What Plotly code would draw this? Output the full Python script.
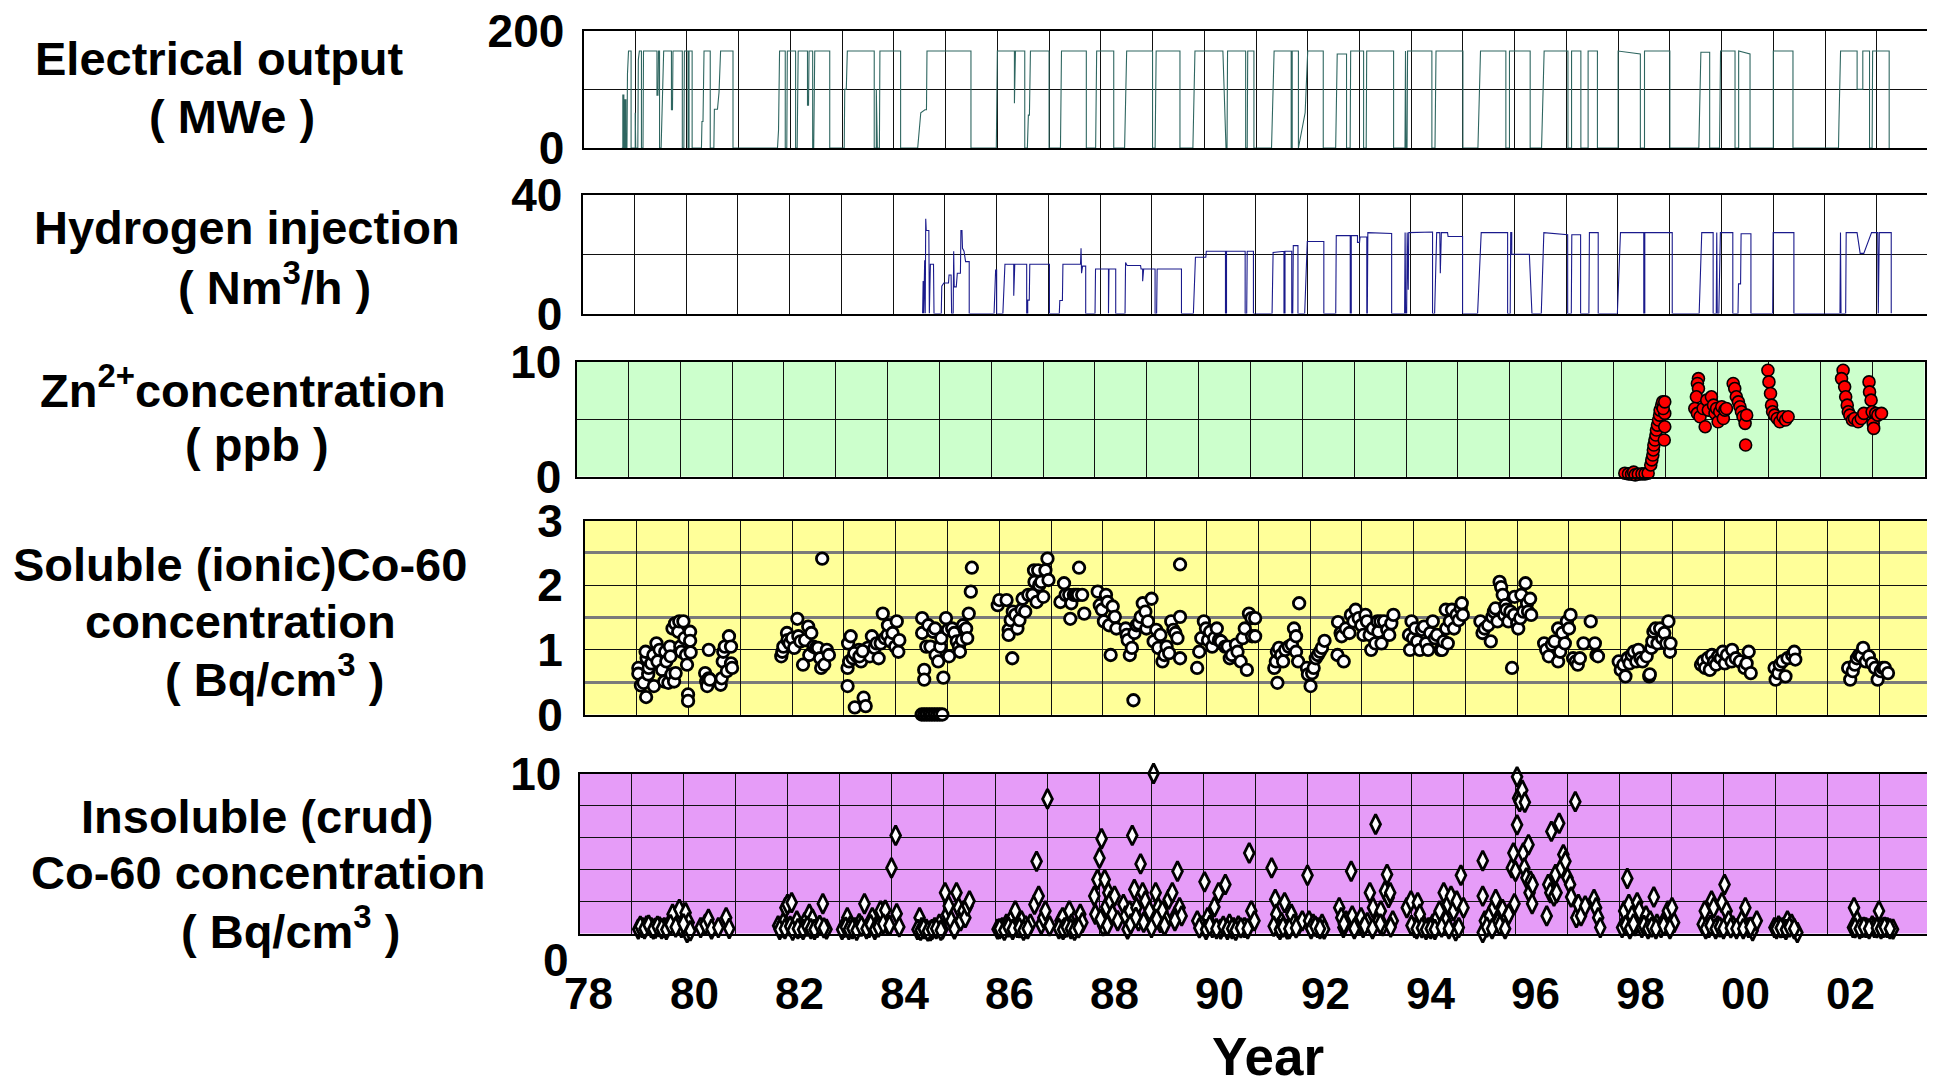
import plotly.graph_objects as go

# ---------------- data (years on the chart's yearly grid, 78 = 1978) ----------------
power_pts = [
    (78.74, 0), (78.76, 0), (78.76, 90), (78.78, 90), (78.78, 0), (78.80, 0), (78.80, 82), (78.82, 82), (78.82, 0),
    (78.84, 0), (78.85, 126), (78.87, 165), (78.92, 165), (78.92, 0),
    (79.00, 0), (79.00, 60), (79.01, 0), (79.05, 0), (79.06, 150), (79.08, 165), (79.12, 165), (79.12, 0), (79.15, 0),
    (79.16, 165), (79.42, 165), (79.42, 90), (79.44, 90), (79.45, 165), (79.47, 165), (79.47, 0), (79.50, 0),
    (79.55, 165), (79.70, 165), (79.70, 65), (79.72, 65), (79.73, 165), (79.91, 165), (79.91, 0), (79.94, 0),
    (79.95, 165), (80.02, 165), (80.02, 0), (80.04, 0), (80.04, 165), (80.10, 165), (80.10, 0),
    (80.28, 0), (80.29, 45), (80.31, 45), (80.33, 165), (80.45, 165), (80.45, 0), (80.52, 0), (80.53, 66), (80.59, 66),
    (80.62, 95), (80.65, 165), (80.89, 165), (80.89, 0),
    (81.75, 0), (81.77, 30), (81.79, 165), (81.90, 165), (81.90, 0), (81.93, 0), (81.94, 165), (82.10, 165), (82.10, 0),
    (82.13, 0), (82.15, 165), (82.33, 165), (82.33, 73), (82.35, 73), (82.36, 165), (82.43, 165), (82.43, 0), (82.45, 0),
    (82.47, 165), (82.76, 165), (82.76, 0),
    (83.04, 0), (83.05, 100), (83.08, 100), (83.10, 165), (83.62, 165), (83.62, 0), (83.66, 0), (83.66, 100), (83.68, 0),
    (83.72, 0), (83.73, 165), (84.13, 165), (84.13, 0),
    (84.46, 0), (84.52, 60), (84.60, 65), (84.63, 65), (84.64, 165), (85.49, 165), (85.49, 0),
    (85.98, 0), (86.00, 165), (86.33, 165), (86.33, 76), (86.35, 165), (86.53, 165), (86.53, 0), (86.58, 0), (86.60, 56),
    (86.62, 56), (86.64, 165), (87.00, 165), (87.00, 0),
    (87.22, 0), (87.24, 165), (87.72, 165), (87.72, 0),
    (87.90, 0), (87.92, 165), (88.25, 165), (88.25, 0), (88.46, 0), (88.47, 42), (88.48, 42), (88.50, 165), (89.00, 165),
    (89.00, 0), (89.05, 0), (89.07, 165), (89.53, 165), (89.53, 0),
    (89.78, 0), (89.82, 165), (90.36, 165), (90.42, 0), (90.44, 0), (90.45, 165), (90.80, 165), (90.80, 0), (90.83, 0),
    (90.84, 165), (90.96, 165), (90.96, 0),
    (91.30, 0), (91.35, 165), (91.68, 165), (91.68, 0), (91.70, 0), (91.70, 165), (91.82, 165), (91.82, 0),
    (91.95, 60), (92.00, 165), (92.30, 165), (92.30, 0),
    (92.54, 0), (92.57, 160), (92.75, 160), (92.75, 0), (92.82, 0), (92.83, 165), (93.08, 165), (93.08, 0), (93.13, 0),
    (93.14, 165), (93.66, 165), (93.66, 0),
    (93.88, 0), (93.89, 165), (93.90, 0), (93.92, 0), (93.93, 165), (94.40, 165), (94.40, 0), (94.46, 0), (94.48, 165),
    (95.00, 165), (95.00, 0),
    (95.29, 0), (95.34, 165), (95.83, 165), (95.83, 0), (95.90, 0), (95.90, 165), (96.30, 165), (96.30, 0),
    (96.52, 0), (96.57, 165), (97.03, 165), (97.03, 0), (97.10, 0), (97.10, 165), (97.28, 165), (97.28, 0), (97.42, 0),
    (97.42, 165), (97.60, 165), (97.60, 0),
    (98.00, 0), (98.00, 165), (98.43, 160), (98.43, 0), (98.51, 0), (98.51, 165), (99.00, 165), (99.00, 0),
    (99.56, 0), (99.60, 163), (99.77, 163), (99.77, 0), (99.96, 0), (99.98, 165), (100.26, 165), (100.26, 0),
    (100.33, 0), (100.33, 165), (100.55, 160), (100.55, 0),
    (101.00, 0), (101.00, 165), (101.38, 165), (101.38, 0),
    (102.26, 0), (102.27, 48), (102.30, 165), (102.62, 165), (102.62, 100), (102.73, 100), (102.73, 165), (102.86, 165),
    (102.86, 0), (102.91, 0), (102.92, 165), (103.24, 165), (103.24, 0),
]

h2_pts = [
    (84.57, 0), (84.58, 11), (84.59, 0), (84.61, 18), (84.62, 0), (84.63, 32), (84.64, 28), (84.69, 28), (84.70, 0),
    (84.72, 16.6), (84.78, 16.6), (84.79, 0),
    (84.93, 0), (84.94, 9.2), (84.98, 10.3), (85.07, 10.3), (85.08, 13), (85.12, 13), (85.13, 0), (85.16, 0), (85.17, 21),
    (85.18, 9), (85.22, 9), (85.24, 13.6), (85.30, 13.6), (85.31, 28), (85.33, 28), (85.34, 22), (85.37, 21),
    (85.40, 17.5), (85.47, 17.5), (85.47, 0),
    (85.95, 0), (85.98, 14.7), (86.00, 14.7), (86.00, 0), (86.12, 0), (86.16, 16.6), (86.33, 16.6), (86.33, 6),
    (86.35, 16.6), (86.58, 16.6), (86.58, 0), (86.60, 0), (86.60, 4.5), (86.63, 4.5), (86.64, 16.6), (87.02, 16.6),
    (87.02, 0),
    (87.21, 0), (87.22, 4.4), (87.27, 4.4), (87.28, 16.6), (87.62, 16.6), (87.63, 22), (87.64, 13.6), (87.66, 16),
    (87.72, 16), (87.72, 0),
    (87.90, 0), (87.91, 15), (88.16, 15), (88.16, 0), (88.17, 15), (88.30, 15), (88.30, 0),
    (88.48, 0), (88.49, 17.2), (88.52, 16.2), (88.78, 16.2), (88.79, 15), (88.82, 15), (88.82, 10.9), (88.84, 15),
    (89.06, 15), (89.06, 0), (89.09, 0), (89.10, 15), (89.57, 15), (89.57, 0),
    (89.80, 0), (89.82, 14.7), (89.84, 19), (90.04, 19), (90.05, 21), (90.42, 21), (90.42, 0), (90.44, 0), (90.44, 21),
    (90.80, 21), (90.80, 0), (90.83, 0), (90.84, 21), (90.96, 21), (90.96, 0),
    (91.32, 0), (91.34, 20.6), (91.55, 21), (91.55, 0), (91.57, 0), (91.57, 21), (91.70, 21), (91.70, 0), (91.72, 0),
    (91.73, 22.9), (91.82, 22.9), (91.82, 0),
    (91.95, 0), (92.00, 24.3), (92.32, 24.3), (92.32, 0),
    (92.55, 0), (92.56, 26.3), (92.83, 26.3), (92.83, 0), (92.85, 0), (92.85, 26.3), (92.97, 26.3), (92.97, 24),
    (93.01, 24), (93.02, 25.8), (93.15, 25.8), (93.15, 0), (93.16, 0), (93.17, 27.3), (93.63, 27), (93.63, 0),
    (93.88, 0), (93.89, 27.3), (93.90, 0), (93.92, 0), (93.93, 27.3), (93.95, 8), (93.96, 27.3), (94.42, 27.5),
    (94.42, 0), (94.46, 0), (94.48, 20), (94.50, 27.3), (94.56, 27.3), (94.57, 13.6), (94.59, 27.3), (94.71, 27.3),
    (94.72, 26), (95.00, 26), (95.00, 0),
    (95.29, 0), (95.36, 27.3), (95.87, 27.3), (95.87, 0), (95.92, 0), (95.93, 27.3), (95.95, 27.3), (95.95, 20),
    (96.29, 20), (96.34, 0),
    (96.52, 0), (96.57, 27.3), (97.03, 26.6), (97.03, 0), (97.10, 0), (97.11, 26.6), (97.28, 26.6), (97.28, 0),
    (97.44, 0), (97.45, 27.3), (97.62, 27.3), (97.62, 0),
    (97.99, 0), (98.05, 27.3), (98.50, 27.3), (98.50, 0), (98.52, 0), (98.52, 27.3), (99.05, 27.3), (99.05, 0),
    (99.57, 0), (99.62, 27.3), (99.84, 27.3), (99.84, 0), (99.90, 0), (99.91, 27.3), (99.92, 0), (99.95, 0),
    (99.98, 27.3), (100.22, 27.3), (100.22, 0), (100.32, 0), (100.33, 10), (100.37, 10), (100.38, 26.9),
    (100.57, 26.9), (100.57, 0),
    (100.99, 0), (101.00, 27.3), (101.40, 27.3), (101.40, 0),
    (102.29, 0), (102.30, 27.3), (102.31, 0), (102.40, 0), (102.41, 27.3), (102.62, 27.3), (102.68, 20.3),
    (102.75, 20.3), (102.90, 27.3), (103.02, 27.3), (103.03, 0), (103.05, 27.3), (103.28, 27.3), (103.28, 0),
]

zn_pts = [
    (98.22, 0.29), (98.29, 0.23), (98.35, 0.20), (98.39, 0.38), (98.42, 0.14), (98.48, 0.20), (98.55, 0.23),
    (98.61, 0.23), (98.67, 0.29),
    (98.72, 1.01), (98.74, 1.45), (98.76, 1.88), (98.77, 2.32), (98.78, 2.75), (98.80, 3.19), (98.82, 3.62),
    (98.83, 4.06), (98.85, 4.49), (98.87, 4.93), (98.89, 5.36), (98.90, 5.80), (98.93, 6.23), (98.95, 6.52),
    (98.98, 3.19), (98.99, 4.35), (98.99, 5.51), (98.96, 5.94), (98.99, 6.52),
    (99.64, 8.55), (99.62, 8.12), (99.64, 7.68), (99.60, 6.96), (99.57, 5.94), (99.62, 5.51), (99.67, 5.22),
    (99.73, 5.94), (99.77, 4.35), (99.80, 6.67), (99.83, 5.80), (99.89, 6.96), (99.93, 6.23), (99.96, 5.51),
    (99.99, 5.94), (100.02, 4.78), (100.05, 5.65), (100.09, 6.09), (100.12, 5.07), (100.15, 5.80), (100.18, 5.94),
    (100.31, 8.12), (100.34, 7.68), (100.37, 6.96), (100.41, 6.52), (100.44, 6.09), (100.47, 5.65), (100.50, 5.22),
    (100.54, 4.64), (100.57, 5.36), (100.55, 2.75),
    (100.98, 9.28), (101.00, 8.26), (101.03, 7.25), (101.05, 6.23), (101.07, 5.65), (101.11, 5.36), (101.16, 5.07),
    (101.21, 4.78), (101.27, 5.22), (101.32, 4.93), (101.37, 5.22),
    (102.43, 9.28), (102.40, 8.55), (102.46, 7.83), (102.48, 6.96), (102.51, 6.23), (102.53, 5.65), (102.56, 5.36),
    (102.61, 4.93), (102.65, 5.07), (102.72, 4.78), (102.78, 5.07), (102.83, 5.51), (102.93, 8.26), (102.94, 7.39),
    (102.97, 6.67), (102.99, 5.65), (103.01, 4.64), (103.02, 4.20), (103.06, 5.51), (103.10, 5.36), (103.17, 5.51),
]

soluble_pts = [
    (79.03, 0.72), (79.03, 0.63), (79.08, 0.45), (79.13, 0.49), (79.18, 0.27), (79.22, 0.62), (79.23, 0.72),
    (79.19, 0.87), (79.17, 0.97), (79.28, 0.79), (79.33, 0.44), (79.32, 0.92), (79.38, 1.10), (79.40, 0.82),
    (79.44, 1.00), (79.49, 0.69), (79.53, 0.51), (79.55, 0.97), (79.57, 0.82), (79.61, 0.49), (79.64, 1.05),
    (79.65, 0.90), (79.67, 0.62), (79.69, 1.33), (79.72, 0.51), (79.74, 1.41), (79.75, 0.64), (79.80, 1.28),
    (79.82, 1.44), (79.84, 1.05), (79.86, 0.97), (79.90, 1.44), (79.92, 1.18), (79.95, 0.92), (79.97, 0.77),
    (79.99, 0.31), (79.99, 0.21), (80.03, 1.28), (80.03, 1.14), (80.04, 0.96),
    (80.39, 1.00), (80.32, 0.64), (80.34, 0.51), (80.36, 0.44), (80.39, 0.56), (80.41, 0.54), (80.62, 0.46),
    (80.64, 0.56), (80.66, 0.82), (80.67, 0.97), (80.70, 1.05), (80.74, 0.67), (80.78, 1.21), (80.82, 1.05),
    (80.82, 0.79), (80.84, 0.72),
    (81.79, 0.90), (81.81, 0.97), (81.83, 1.05), (81.90, 1.26), (81.91, 1.15), (81.95, 1.10), (82.00, 1.18),
    (82.04, 1.03), (82.10, 1.48), (82.12, 1.21), (82.16, 1.13), (82.21, 0.77), (82.25, 1.15), (82.31, 1.36),
    (82.33, 0.92), (82.37, 1.26), (82.41, 1.05), (82.46, 1.03), (82.50, 1.03), (82.54, 0.87), (82.56, 0.72),
    (82.62, 0.77), (82.67, 1.00), (82.71, 0.92), (82.58, 2.41),
    (83.07, 0.72), (83.07, 0.44), (83.08, 1.10), (83.10, 0.82), (83.13, 1.21), (83.17, 0.87), (83.21, 0.11),
    (83.25, 0.90), (83.29, 1.00), (83.33, 0.82), (83.38, 0.26), (83.42, 0.13), (83.40, 0.97), (83.46, 1.03),
    (83.50, 0.90), (83.54, 1.21), (83.59, 1.03), (83.63, 1.10), (83.67, 0.87), (83.71, 1.10), (83.75, 1.56),
    (83.79, 1.18), (83.84, 1.23), (83.85, 1.38), (83.90, 1.13), (83.94, 1.26), (83.99, 1.05), (84.02, 1.44),
    (84.05, 0.97), (84.07, 1.15), (83.20, 0.95), (83.30, 0.90), (83.36, 0.98),
    (84.50, 0.0), (84.55, 0.0), (84.60, 0.0), (84.65, 0.0), (84.70, 0.0), (84.75, 0.0), (84.80, 0.0), (84.85, 0.0),
    (84.90, 0.0),
    (84.51, 1.49), (84.51, 1.26), (84.55, 0.69), (84.55, 0.54), (84.59, 1.05), (84.63, 1.38), (84.67, 1.05),
    (84.72, 1.28), (84.76, 1.33), (84.77, 0.92), (84.82, 0.82), (84.86, 1.05), (84.88, 1.18), (84.92, 0.57),
    (84.97, 1.49), (85.01, 1.31), (85.03, 0.90), (85.09, 1.33), (85.13, 1.26), (85.18, 1.13), (85.22, 1.05),
    (85.24, 0.97), (85.28, 1.15), (85.30, 1.38), (85.33, 1.31), (85.36, 1.33), (85.38, 1.18), (85.41, 1.56),
    (85.45, 1.90), (85.47, 2.27),
    (85.97, 1.69), (86.00, 1.77), (86.14, 1.77), (86.18, 1.31), (86.18, 1.23), (86.22, 1.46), (86.25, 0.87),
    (86.26, 1.59), (86.31, 1.54), (86.35, 1.33), (86.39, 1.46), (86.43, 1.62), (86.45, 1.79), (86.50, 1.59),
    (86.56, 1.85), (86.64, 1.85), (86.67, 2.23), (86.68, 2.05), (86.72, 1.74), (86.75, 2.23), (86.77, 2.00),
    (86.81, 2.05), (86.85, 1.82), (86.89, 2.23), (86.93, 2.41), (86.95, 2.08),
    (87.18, 1.74), (87.25, 2.03), (87.28, 1.85), (87.35, 1.85), (87.37, 1.48), (87.39, 1.72), (87.44, 1.85),
    (87.48, 1.85), (87.52, 1.85), (87.54, 2.27), (87.60, 1.85), (87.64, 1.56),
    (87.90, 1.90), (87.94, 1.69), (87.98, 1.62), (88.02, 1.44), (88.06, 1.85), (88.09, 1.74), (88.12, 1.38),
    (88.15, 0.92), (88.19, 1.67), (88.23, 1.51), (88.26, 1.33), (88.44, 1.33), (88.46, 1.23), (88.48, 1.15),
    (88.52, 0.92), (88.56, 1.03), (88.59, 0.22), (88.61, 1.26), (88.65, 1.38), (88.69, 1.41), (88.73, 1.51),
    (88.77, 1.72), (88.82, 1.59), (88.84, 1.33), (88.87, 1.44), (88.94, 1.79), (88.98, 1.13), (89.03, 1.31),
    (89.07, 1.03), (89.11, 1.23), (89.15, 0.82), (89.19, 0.92), (89.23, 1.05), (89.28, 0.95), (89.32, 1.44),
    (89.36, 1.31), (89.40, 1.26), (89.44, 1.18), (89.49, 0.87), (89.49, 1.51), (89.49, 2.32),
    (89.82, 0.72), (89.86, 0.97), (89.90, 1.18), (89.95, 1.44), (89.99, 1.33), (90.03, 1.15), (90.07, 1.28),
    (90.11, 1.05), (90.15, 1.18), (90.20, 1.33), (90.24, 1.15), (90.28, 1.13), (90.36, 1.05), (90.41, 1.05),
    (90.45, 0.87), (90.49, 0.92), (90.57, 1.08), (90.60, 0.97), (90.66, 0.82), (90.70, 1.18), (90.74, 1.33),
    (90.78, 0.69), (90.82, 1.56), (90.87, 1.49), (90.88, 1.21), (90.94, 1.49), (90.94, 1.21),
    (91.31, 0.72), (91.34, 0.82), (91.36, 0.97), (91.37, 0.49), (91.40, 1.03), (91.44, 0.92), (91.48, 0.82),
    (91.52, 1.00), (91.59, 1.05), (91.65, 1.08), (91.69, 1.33), (91.73, 1.21), (91.73, 0.97), (91.77, 0.82),
    (91.79, 1.72),
    (91.94, 0.72), (91.96, 0.62), (92.01, 0.44), (92.04, 0.64), (92.07, 0.72), (92.11, 0.87), (92.15, 0.92),
    (92.19, 0.97), (92.23, 1.03), (92.28, 1.14),
    (92.53, 0.92), (92.54, 1.43), (92.59, 1.26), (92.61, 1.21), (92.65, 0.82), (92.69, 1.33), (92.76, 1.26),
    (92.79, 1.54), (92.84, 1.44), (92.88, 1.62), (92.94, 1.49), (92.99, 1.38), (93.03, 1.23), (93.07, 1.54),
    (93.10, 1.44), (93.15, 1.23), (93.18, 1.00), (93.21, 1.33), (93.26, 1.10), (93.30, 1.44), (93.32, 1.28),
    (93.36, 1.44), (93.38, 1.10), (93.43, 1.44), (93.49, 1.31), (93.53, 1.23), (93.57, 1.41), (93.61, 1.54),
    (93.91, 1.23), (93.93, 1.00), (93.96, 1.44), (93.99, 1.18), (94.03, 1.33), (94.07, 1.13), (94.12, 1.00),
    (94.16, 1.31), (94.20, 1.36), (94.24, 1.10), (94.28, 1.00), (94.32, 1.26), (94.37, 1.44), (94.41, 1.18),
    (94.45, 1.23), (94.52, 1.00), (94.55, 1.00), (94.58, 1.13), (94.62, 1.62), (94.63, 1.33), (94.66, 1.10),
    (94.70, 1.44), (94.74, 1.62), (94.78, 1.33), (94.83, 1.54), (94.87, 1.46), (94.91, 1.64), (94.93, 1.72),
    (94.95, 1.54),
    (95.29, 1.44), (95.33, 1.26), (95.37, 1.33), (95.44, 1.38), (95.49, 1.13), (95.52, 1.51), (95.55, 1.59),
    (95.58, 1.64), (95.62, 1.44), (95.66, 2.05), (95.69, 1.97), (95.72, 1.85), (95.75, 1.54), (95.77, 1.69),
    (95.79, 1.62), (95.83, 1.44), (95.87, 1.59), (95.90, 0.72), (95.94, 1.54), (95.95, 1.82), (96.00, 1.41),
    (96.02, 1.33), (96.06, 1.49), (96.08, 1.85), (96.12, 1.59), (96.16, 2.03), (96.19, 1.72), (96.21, 1.59),
    (96.25, 1.79), (96.27, 1.54),
    (96.52, 1.10), (96.56, 1.00), (96.61, 0.90), (96.67, 1.08), (96.72, 1.13), (96.79, 1.33), (96.79, 0.82),
    (96.83, 0.97), (96.87, 1.26), (96.92, 1.10), (96.96, 1.44), (97.00, 1.33), (97.03, 1.54), (97.08, 0.87),
    (97.13, 0.82), (97.17, 0.77), (97.21, 0.87), (97.28, 1.10), (97.42, 1.44), (97.50, 1.10), (97.53, 0.92),
    (97.56, 0.90),
    (97.96, 0.82), (98.00, 0.69), (98.05, 0.77), (98.09, 0.59), (98.13, 0.87), (98.17, 0.79), (98.21, 0.92),
    (98.25, 0.97), (98.30, 0.82), (98.34, 1.00), (98.38, 0.87), (98.42, 0.82), (98.50, 0.90), (98.55, 0.59),
    (98.56, 0.62), (98.59, 1.03), (98.61, 1.13), (98.63, 1.28), (98.67, 1.33), (98.71, 1.10), (98.76, 1.33),
    (98.80, 1.18), (98.84, 1.26), (98.88, 1.10), (98.92, 1.44), (98.95, 0.97), (98.96, 1.10),
    (99.55, 0.77), (99.59, 0.82), (99.63, 0.72), (99.68, 0.87), (99.72, 0.69), (99.76, 0.92), (99.80, 0.82),
    (99.84, 0.77), (99.88, 0.90), (99.93, 0.87), (99.97, 0.97), (100.01, 0.79), (100.05, 0.92), (100.14, 0.82),
    (100.15, 1.00), (100.22, 0.87), (100.30, 0.82), (100.39, 0.72), (100.43, 0.79), (100.47, 0.97), (100.51, 0.64),
    (100.97, 0.72), (100.99, 0.54), (101.04, 0.64), (101.07, 0.77), (101.12, 0.82), (101.18, 0.59), (101.22, 0.87),
    (101.31, 0.92), (101.35, 0.97), (101.37, 0.85),
    (102.39, 0.72), (102.43, 0.54), (102.48, 0.67), (102.52, 0.77), (102.56, 0.87), (102.60, 0.92), (102.64, 0.90),
    (102.68, 1.03), (102.73, 0.82), (102.79, 0.90), (102.85, 0.79), (102.91, 0.72), (102.96, 0.54), (103.02, 0.67),
    (103.06, 0.72), (103.10, 0.72), (103.16, 0.64),
]

insoluble_pts = [
    (79.13, 0.27), (79.21, 0.37), (79.29, 0.48), (79.38, 0.37), (79.46, 0.33), (79.54, 0.41), (79.63, 0.37),
    (79.71, 0.48), (79.79, 1.20), (79.92, 1.51), (79.96, 0.37), (80.04, 1.30), (80.07, 0.06), (80.10, 0.68),
    (80.13, 0.17), (79.17, 0.45), (79.25, 0.30), (79.33, 0.52), (79.42, 0.28), (79.50, 0.45), (79.58, 0.30),
    (79.67, 0.25), (79.75, 0.55), (79.85, 0.40), (80.00, 0.60),
    (80.33, 0.37), (80.42, 0.58), (80.48, 0.89), (80.54, 0.27), (80.67, 0.37), (80.82, 0.99), (80.88, 0.31),
    (81.82, 0.48), (81.88, 0.37), (81.92, 0.68), (81.96, 1.61), (82.00, 1.82), (82.08, 1.93), (82.13, 0.37),
    (82.18, 0.79), (82.25, 0.37), (82.33, 0.68), (82.42, 1.20), (82.48, 0.89), (82.57, 0.37), (82.68, 1.86),
    (82.75, 0.27), (81.85, 0.25), (81.95, 0.30), (82.05, 0.45), (82.10, 0.20), (82.20, 0.30), (82.30, 0.25),
    (82.38, 0.45), (82.45, 0.30), (82.52, 0.25), (82.62, 0.50), (82.70, 0.35),
    (83.08, 0.37), (83.15, 0.99), (83.21, 0.48), (83.29, 0.37), (83.38, 0.62), (83.48, 1.86), (83.57, 0.37),
    (83.63, 0.99), (83.71, 0.48), (83.79, 1.41), (83.88, 1.45), (83.92, 0.58), (84.00, 4.10), (84.08, 6.13),
    (84.10, 1.24), (84.15, 0.41), (83.05, 0.25), (83.12, 0.40), (83.18, 0.25), (83.25, 0.30), (83.33, 0.20),
    (83.42, 0.45), (83.52, 0.30), (83.60, 0.55), (83.68, 0.25), (83.75, 0.40), (83.84, 0.60), (83.96, 0.50),
    (84.54, 0.99), (84.58, 0.37), (84.67, 0.27), (84.75, 0.17), (84.83, 0.37), (84.92, 0.58), (84.98, 0.27),
    (85.03, 2.55), (85.07, 1.20), (85.10, 1.72), (85.15, 0.79), (85.21, 0.27), (85.25, 2.55), (85.29, 1.61),
    (85.33, 0.79), (85.38, 1.41), (85.42, 0.99), (85.46, 1.72), (85.50, 2.03), (84.50, 0.25), (84.56, 0.20),
    (84.62, 0.30), (84.70, 0.15), (84.78, 0.25), (84.86, 0.30), (84.95, 0.20),
    (86.04, 0.27), (86.13, 0.37), (86.21, 0.58), (86.29, 0.79), (86.38, 1.41), (86.42, 0.37), (86.50, 0.79),
    (86.58, 0.48), (86.67, 0.58), (86.75, 1.82), (86.79, 4.51), (86.83, 2.34), (86.88, 0.58), (86.92, 0.99),
    (86.96, 1.41), (87.00, 8.41), (87.04, 0.48), (86.08, 0.30), (86.17, 0.20), (86.25, 0.40), (86.33, 0.25),
    (86.46, 0.35), (86.54, 0.20), (86.62, 0.30),
    (87.25, 0.79), (87.29, 0.99), (87.33, 0.37), (87.42, 1.41), (87.46, 0.58), (87.58, 0.48), (87.63, 1.20),
    (87.67, 0.68), (87.22, 0.30), (87.30, 0.25), (87.37, 0.40), (87.45, 0.30), (87.52, 0.20), (87.60, 0.35),
    (87.90, 2.34), (87.92, 1.20), (87.96, 3.37), (88.00, 4.72), (88.04, 5.92), (88.07, 0.48), (88.10, 3.37),
    (88.13, 1.66), (88.17, 2.55), (88.21, 2.03), (88.25, 1.20), (88.29, 2.34), (88.46, 1.82), (88.50, 1.10),
    (88.54, 0.27), (88.58, 1.41), (88.63, 6.13), (88.67, 2.75), (88.71, 1.61), (88.75, 0.79), (88.79, 4.35),
    (88.83, 2.55), (88.88, 2.03), (88.92, 0.89), (88.96, 1.41), (89.00, 0.37), (89.04, 10.0), (89.08, 2.55),
    (89.13, 1.61), (89.17, 0.68), (89.21, 1.41), (89.29, 0.79), (89.33, 2.13), (89.40, 2.55), (89.46, 1.10),
    (89.50, 3.89), (89.54, 1.61), (89.58, 1.10), (88.02, 0.90), (88.15, 0.50), (88.35, 0.80), (88.60, 0.60),
    (88.70, 1.00), (88.85, 0.70), (89.10, 0.90), (89.25, 0.50), (89.45, 0.80),
    (89.88, 0.79), (89.96, 0.48), (90.02, 3.23), (90.08, 0.99), (90.17, 0.37), (90.21, 1.66), (90.29, 2.55),
    (90.33, 0.27), (90.42, 3.06), (90.50, 0.58), (90.58, 0.37), (90.67, 0.48), (90.79, 0.37), (90.88, 5.03),
    (90.92, 1.41), (89.92, 0.35), (90.05, 0.25), (90.12, 0.50), (90.25, 0.30), (90.38, 0.45), (90.46, 0.25),
    (90.55, 0.30), (90.62, 0.20), (90.72, 0.35), (90.85, 0.30),
    (90.98, 0.79), (91.31, 4.10), (91.38, 2.13), (91.40, 1.20), (91.44, 0.37), (91.50, 0.68), (91.56, 1.93),
    (91.61, 0.27), (91.69, 1.20), (91.74, 0.58), (91.82, 0.48), (91.90, 0.79), (92.00, 3.64), (92.03, 0.79),
    (92.11, 0.58), (92.19, 0.37), (92.28, 0.58), (92.32, 0.27), (91.35, 0.45), (91.47, 0.25), (91.53, 0.40),
    (91.65, 0.30), (91.78, 0.35), (92.07, 0.30), (92.15, 0.45), (92.24, 0.30),
    (92.61, 1.61), (92.65, 0.99), (92.69, 0.37), (92.74, 0.79), (92.84, 3.89), (92.86, 1.10), (92.95, 0.58),
    (93.03, 0.99), (93.07, 0.37), (93.15, 0.68), (93.20, 2.55), (93.26, 1.61), (93.31, 6.83), (93.36, 0.79),
    (93.41, 1.41), (93.45, 0.48), (93.49, 2.65), (93.53, 3.69), (93.56, 2.24), (93.59, 2.55), (93.64, 0.79),
    (92.70, 0.60), (92.90, 0.30), (93.10, 0.50), (93.25, 0.30), (93.40, 0.60), (93.60, 0.40),
    (93.91, 1.61), (93.99, 2.03), (94.06, 0.37), (94.12, 1.93), (94.16, 1.20), (94.24, 0.48), (94.33, 0.37),
    (94.41, 0.58), (94.49, 0.99), (94.54, 1.41), (94.62, 2.55), (94.66, 0.79), (94.70, 1.82), (94.76, 2.34),
    (94.81, 1.41), (94.85, 0.17), (94.87, 2.03), (94.91, 0.37), (94.95, 3.64), (95.00, 1.61), (94.00, 0.50),
    (94.10, 0.30), (94.20, 0.35), (94.28, 0.25), (94.37, 0.30), (94.45, 0.25), (94.58, 0.40), (94.72, 0.30),
    (95.37, 0.06), (95.37, 2.34), (95.37, 4.55), (95.41, 0.79), (95.50, 1.10), (95.58, 1.61), (95.62, 2.13),
    (95.66, 0.68), (95.75, 1.51), (95.83, 0.99), (95.87, 1.20), (95.93, 4.10), (95.96, 5.03), (95.98, 1.86),
    (96.00, 3.89), (96.03, 6.79), (96.03, 9.79), (96.05, 8.45), (96.08, 8.24), (96.13, 8.96), (96.15, 5.03),
    (96.17, 4.10), (96.18, 8.20), (96.21, 3.48), (96.25, 5.55), (96.27, 2.55), (96.29, 3.27), (96.32, 1.86),
    (96.33, 3.06), (95.45, 0.40), (95.55, 0.30), (95.70, 0.50), (95.80, 0.30),
    (96.60, 1.10), (96.63, 3.06), (96.67, 2.55), (96.69, 6.38), (96.74, 2.34), (96.77, 3.69), (96.79, 2.55),
    (96.84, 6.89), (96.88, 4.10), (96.92, 4.93), (96.96, 4.51), (97.00, 3.48), (97.05, 3.06), (97.07, 2.28),
    (97.15, 8.24), (97.17, 0.99), (97.21, 1.82), (97.26, 1.10), (97.34, 1.72), (97.51, 2.13), (97.55, 1.61),
    (97.59, 0.99), (97.63, 0.37),
    (98.05, 0.37), (98.09, 1.41), (98.15, 3.44), (98.18, 1.82), (98.24, 1.10), (98.30, 0.48), (98.34, 1.93),
    (98.38, 1.41), (98.43, 0.37), (98.51, 1.10), (98.59, 0.79), (98.66, 2.28), (98.72, 0.58), (98.80, 0.37),
    (98.89, 0.99), (98.93, 1.41), (99.01, 1.61), (99.05, 0.68), (98.12, 0.50), (98.20, 0.30), (98.27, 0.60),
    (98.47, 0.50), (98.55, 0.30), (98.62, 0.40), (98.70, 0.30), (98.85, 0.50), (98.97, 0.30),
    (99.60, 0.58), (99.64, 1.41), (99.72, 0.37), (99.77, 2.03), (99.81, 1.61), (99.89, 0.48), (99.97, 1.93),
    (100.02, 3.06), (100.06, 1.41), (100.10, 0.79), (100.18, 0.48), (100.35, 0.79), (100.42, 1.61), (100.48, 0.37),
    (100.56, 0.17), (100.64, 0.79), (99.66, 0.30), (99.75, 0.50), (99.85, 0.30), (99.93, 0.40), (100.00, 0.30),
    (100.14, 0.35), (100.25, 0.30), (100.38, 0.30), (100.52, 0.40),
    (100.98, 0.37), (101.06, 0.48), (101.15, 0.37), (101.23, 0.79), (101.31, 0.58), (101.42, 0.06), (101.02, 0.30),
    (101.10, 0.35), (101.20, 0.25), (101.27, 0.40), (101.36, 0.30),
    (102.49, 0.37), (102.51, 1.61), (102.57, 0.79), (102.66, 0.37), (102.74, 0.37), (102.86, 0.48), (102.90, 0.37),
    (102.99, 1.41), (103.07, 0.37), (103.15, 0.37), (103.26, 0.27), (102.53, 0.35), (102.62, 0.30), (102.70, 0.40),
    (102.80, 0.30), (102.95, 0.35), (103.03, 0.30), (103.10, 0.40), (103.20, 0.30),
]

x_tick_labels = ["78", "80", "82", "84", "86", "88", "90", "92", "94", "96", "98", "00", "02"]

panel_titles = [
    ["Electrical output", "( MWe )"],
    ["Hydrogen injection", "( Nm<sup>3</sup>/h )"],
    ["Zn<sup>2+</sup>concentration", "( ppb )"],
    ["Soluble (ionic)Co-60", "concentration", "( Bq/cm<sup>3</sup> )"],
    ["Insoluble (crud)", "Co-60 concentration", "( Bq/cm<sup>3</sup> )"],
]

# ---------------- layout constants ----------------
OFF = 8                      # the page's default body margin
W, H = 1935 - OFF, 1085 - OFF
FONT = "Liberation Sans, Arial, sans-serif"
boxes = [  # left, right, top, bottom in window pixels
    (583.5, 1928.5, 30.5, 148.0),
    (582.5, 1928.5, 195.0, 313.5),
    (576.5, 1924.5, 362.0, 476.5),
    (585.0, 1931.5, 520.5, 714.5),
    (579.5, 1931.5, 773.5, 933.5),
]
tick_lens = [8, 9, 4, 11, 7]
bg_colors = ["white", "white", "#CCFFCC", "#FFFF99", "#E69CF8"]
title_pos = [
    [(219, 59), (232, 116)],
    [(247, 228), (274, 284)],
    [(243, 387), (257, 444)],
    [(240, 564), (240, 621), (274, 676)],
    [(257, 817), (258, 872), (290, 928)],
]


def fx(p):  # window x pixel -> paper fraction
    return (p - OFF) / W


def fy(p):  # window y pixel -> paper fraction
    return 1 - (p - OFF) / H


def unzip(pts):
    return [p[0] for p in pts], [p[1] for p in pts]


fig = go.Figure()

px_, py_ = unzip(power_pts)
fig.add_trace(go.Scatter(x=px_, y=py_, mode="lines", line=dict(color="#2E6660", width=1.1),
                         xaxis="x", yaxis="y", showlegend=False, cliponaxis=False))
hx, hy = unzip(h2_pts)
fig.add_trace(go.Scatter(x=hx, y=hy, mode="lines", line=dict(color="#1A1A8C", width=1.1),
                         xaxis="x2", yaxis="y2", showlegend=False, cliponaxis=False))
zx, zy = unzip(zn_pts)
fig.add_trace(go.Scatter(x=zx, y=zy, mode="markers",
                         marker=dict(symbol="circle", size=12, color="#FF0000", line=dict(color="black", width=1.6)),
                         xaxis="x3", yaxis="y3", showlegend=False, cliponaxis=False))
sx, sy = unzip(soluble_pts)
fig.add_trace(go.Scatter(x=sx, y=sy, mode="markers",
                         marker=dict(symbol="circle", size=11.5, color="white", line=dict(color="black", width=2.8)),
                         xaxis="x4", yaxis="y4", showlegend=False, cliponaxis=False))
ix, iy = unzip(insoluble_pts)
fig.add_trace(go.Scatter(x=ix, y=iy, mode="markers",
                         marker=dict(symbol="diamond-tall", size=14, color="white", line=dict(color="black", width=2.8)),
                         xaxis="x5", yaxis="y5", showlegend=False, cliponaxis=False))

y_specs = [
    dict(range=[0, 200], tickvals=[0, 100, 200], ticktext=["0", "", "200"]),
    dict(range=[0, 40], tickvals=[0, 20, 40], ticktext=["0", "", "40"]),
    dict(range=[0, 10], tickvals=[0, 5, 10], ticktext=["0", "", "10"]),
    dict(range=[0, 3], tickvals=[0, 1, 2, 3], ticktext=["0", "1", "2", "3"],
         minor=dict(tickvals=[0.5, 1.5, 2.5], showgrid=True, gridcolor="#7a7a7a", gridwidth=2.5, ticks="")),
    dict(range=[0, 10], tickvals=[0, 2, 4, 6, 8, 10], ticktext=["", "", "", "", "", "10"]),
]

layout = dict(
    width=W, height=H, margin=dict(l=0, r=0, t=0, b=0, pad=0, autoexpand=False),
    paper_bgcolor="white", plot_bgcolor="white",
    font=dict(family=FONT, color="black", size=20, weight="bold"),
    showlegend=False, shapes=[], annotations=[],
)

for i, (b, ys) in enumerate(zip(boxes, y_specs)):
    n = "" if i == 0 else str(i + 1)
    layout["xaxis" + n] = dict(
        domain=[fx(b[0]), fx(b[1])], anchor="y" + n, range=[78, 104], automargin=False,
        tickvals=list(range(79, 104)), showticklabels=False, ticks="",
        showgrid=True, gridcolor="#111111", gridwidth=1, zeroline=False,
        showline=True, mirror=True, linecolor="black", linewidth=2,
    )
    yax = dict(
        domain=[fy(b[3]), fy(b[2])], anchor="x" + n, automargin=False,
        showgrid=True, gridcolor="#111111", gridwidth=1.2, zeroline=False,
        showline=True, mirror=True, linecolor="black", linewidth=2,
        ticks="outside", ticklen=tick_lens[i], tickcolor="rgba(0,0,0,0)",
        ticklabeloverflow="allow",
        tickfont=dict(family=FONT, size=46, color="black", weight="bold"),
    )
    yax.update(ys)
    layout["yaxis" + n] = yax
    layout["shapes"].append(dict(type="rect", xref=("x" + n) + " domain", yref=("y" + n) + " domain",
                                 x0=0, x1=1, y0=0, y1=1, fillcolor=bg_colors[i], line=dict(width=0),
                                 layer="below"))

# left-hand panel titles
for lines, poss in zip(panel_titles, title_pos):
    for txt, (cx, cy) in zip(lines, poss):
        layout["annotations"].append(dict(
            text=txt, x=fx(cx), y=fy(cy), xref="paper", yref="paper",
            xanchor="center", yanchor="middle", showarrow=False,
            font=dict(family=FONT, size=47, color="black", weight="bold")))

# x tick labels (printed slightly wider than the yearly grid in the original)
for k, lab in enumerate(x_tick_labels):
    layout["annotations"].append(dict(
        text=lab, x=78.18 + 2.0225 * k, y=fy(993), xref="x5", yref="paper",
        xanchor="center", yanchor="middle", showarrow=False,
        font=dict(family=FONT, size=44, color="black", weight="bold")))

# misplaced "0" label of the bottom panel
layout["annotations"].append(dict(
    text="0", x=fx(571), y=fy(960), xref="paper", yref="paper",
    xanchor="right", yanchor="middle", showarrow=False,
    font=dict(family=FONT, size=46, color="black", weight="bold")))

layout["annotations"].append(dict(
    text="Year", x=fx(1268), y=fy(1056), xref="paper", yref="paper",
    xanchor="center", yanchor="middle", showarrow=False,
    font=dict(family=FONT, size=53, color="black", weight="bold")))

fig.update_layout(**layout)
fig.write_html("out.html")
